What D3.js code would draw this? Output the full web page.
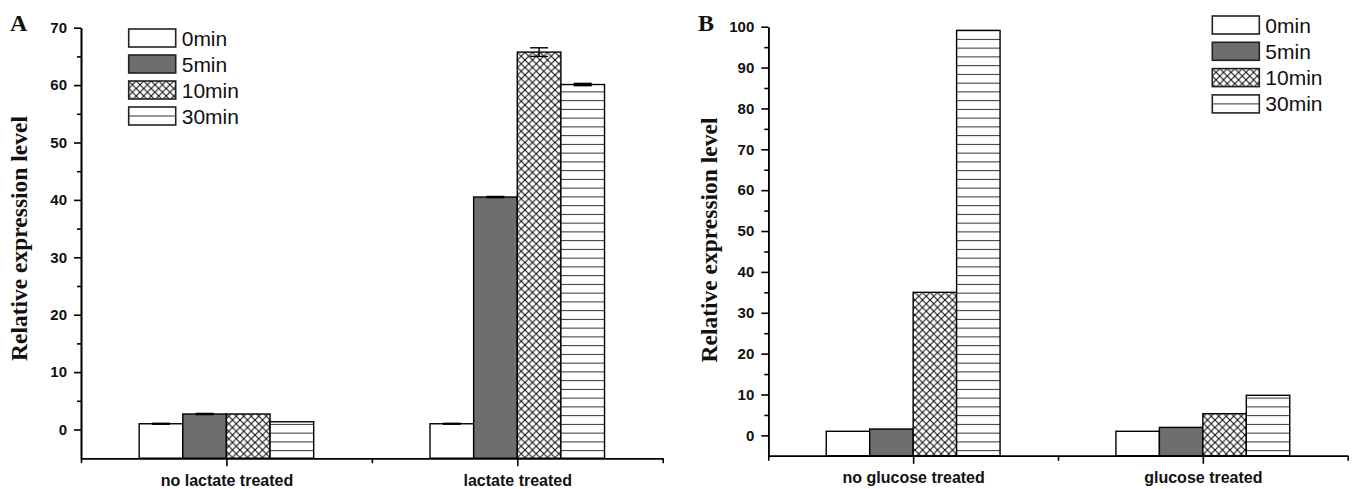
<!DOCTYPE html>
<html>
<head>
<meta charset="utf-8">
<script src="https://cdn.jsdelivr.net/npm/d3@7"></script>
<style>
  body { margin: 0; background: #fff; }
  svg { display: block; }
</style>
</head>
<body>
<div class="svg-content"></div>
<script>
const timePoints = ["0min", "5min", "10min", "30min"];

const groupsA = ["no lactate treated", "lactate treated"];
const valuesA = [[1.0, 2.7, 2.7, 1.35], [1.0, 40.5, 65.75, 60.1]];
const errorsA = [[0.08, 0.1, 0, 0], [0.08, 0.1, 0.75, 0.2]];
const ticksA = [0, 10, 20, 30, 40, 50, 60, 70];

const groupsB = ["no glucose treated", "glucose treated"];
const valuesB = [[1.0, 1.55, 35.0, 99.1], [1.0, 1.95, 5.3, 9.8]];
const errorsB = [[0, 0, 0, 0], [0, 0, 0, 0]];
const ticksB = [0, 10, 20, 30, 40, 50, 60, 70, 80, 90, 100];

const svgWidth = 1354;
const svgHeight = 489;

const svg = d3.select(".svg-content")
              .append("svg")
              .attr("width", svgWidth)
              .attr("height", svgHeight);

// fill patterns
const defs = svg.append("defs");

const cross = defs.append("pattern")
                  .attr("id", "cross")
                  .attr("patternUnits", "userSpaceOnUse")
                  .attr("width", 7.5)
                  .attr("height", 7.5);
cross.append("rect").attr("width", 7.5).attr("height", 7.5).attr("fill", "#fff");
cross.append("path")
     .attr("d", "M0,0L7.5,7.5M7.5,0L0,7.5")
     .attr("stroke", "#111")
     .attr("stroke-width", 1.1);

const horiz = defs.append("pattern")
                  .attr("id", "horiz")
                  .attr("patternUnits", "userSpaceOnUse")
                  .attr("width", 10)
                  .attr("height", 8.75);
horiz.append("rect").attr("width", 10).attr("height", 8.75).attr("fill", "#fff");
horiz.append("line")
     .attr("x1", 0).attr("x2", 10)
     .attr("y1", 4.4).attr("y2", 4.4)
     .attr("stroke", "#333")
     .attr("stroke-width", 1);

const fills = ["#fff", "#6e6e6e", "url(#cross)", "url(#horiz)"];

function drawPanel(opt) {
  const xScale = d3.scaleLinear()
                   .domain([0.5, 2.5])
                   .range([opt.left, opt.right]);

  const yScale = d3.scaleLinear()
                   .domain([-5, opt.yMax])
                   .range([opt.bottom, opt.top]);

  const barW = 0.15;
  const bars = [];
  opt.values.forEach((row, g) => {
    row.forEach((v, i) => {
      bars.push({ g: g, i: i, v: v, err: opt.errors[g][i] });
    });
  });

  const panel = svg.append("g");

  panel.selectAll("rect.bar")
       .data(bars)
       .enter()
       .append("rect")
       .attr("class", "bar")
       .attr("x", d => xScale(d.g + 1 - 2 * barW + d.i * barW))
       .attr("y", d => yScale(d.v))
       .attr("width", xScale(1 + barW) - xScale(1))
       .attr("height", d => yScale(-5) - yScale(d.v))
       .attr("fill", d => fills[d.i])
       .attr("stroke", "#000")
       .attr("stroke-width", 1.4);

  // error bars
  const errBars = bars.filter(d => d.err > 0);
  const cx = d => xScale(d.g + 1 - 2 * barW + (d.i + 0.5) * barW);
  const capW = 9;
  const eb = panel.selectAll("g.err")
                  .data(errBars)
                  .enter()
                  .append("g")
                  .attr("class", "err")
                  .attr("stroke", "#000")
                  .attr("stroke-width", 1.4);
  eb.append("line")
    .attr("x1", cx).attr("x2", cx)
    .attr("y1", d => yScale(d.v + d.err))
    .attr("y2", d => yScale(d.v - d.err));
  eb.append("line")
    .attr("x1", d => cx(d) - capW).attr("x2", d => cx(d) + capW)
    .attr("y1", d => yScale(d.v + d.err)).attr("y2", d => yScale(d.v + d.err));
  eb.append("line")
    .attr("x1", d => cx(d) - capW).attr("x2", d => cx(d) + capW)
    .attr("y1", d => yScale(d.v - d.err)).attr("y2", d => yScale(d.v - d.err));

  // y axis
  const yAxis = d3.axisLeft(yScale)
                  .tickValues(opt.ticks)
                  .tickSize(7)
                  .tickSizeOuter(0)
                  .tickPadding(7);
  const yMinor = d3.axisLeft(yScale)
                   .tickValues(opt.ticks.map(t => t + 5).filter(t => t < opt.yMax))
                   .tickSize(4)
                   .tickSizeOuter(0)
                   .tickFormat("");

  const yg = panel.append("g")
                  .attr("transform", "translate(" + opt.left + ",0)")
                  .call(yAxis);
  panel.append("g")
       .attr("transform", "translate(" + opt.left + ",0)")
       .call(yMinor);

  yg.selectAll("text")
    .style("font-family", "'Liberation Sans', Arial, sans-serif")
    .style("font-weight", "bold")
    .style("font-size", "15px")
    .attr("fill", "#111");

  // x axis
  const xAxis = d3.axisBottom(xScale)
                  .tickValues([1, 2])
                  .tickSize(8)
                  .tickSizeOuter(0)
                  .tickPadding(8)
                  .tickFormat(d => opt.groups[d - 1]);
  const xMinor = d3.axisBottom(xScale)
                   .tickValues([0.5, 1.5, 2.5])
                   .tickSize(5)
                   .tickSizeOuter(0)
                   .tickFormat("");

  const xg = panel.append("g")
                  .attr("transform", "translate(0," + opt.bottom + ")")
                  .call(xAxis);
  panel.append("g")
       .attr("transform", "translate(0," + opt.bottom + ")")
       .call(xMinor);

  xg.selectAll("text")
    .style("font-family", "'Liberation Sans', Arial, sans-serif")
    .style("font-weight", "bold")
    .style("font-size", "16px")
    .attr("fill", "#111");

  panel.selectAll(".domain, .tick line")
       .attr("stroke", "#000")
       .attr("stroke-width", 1.6);

  // axis title
  panel.append("text")
       .attr("transform", "translate(" + opt.titleX + "," + opt.titleY + ") rotate(-90)")
       .attr("text-anchor", "middle")
       .style("font-family", "'Liberation Serif', 'Times New Roman', serif")
       .style("font-weight", "bold")
       .style("font-size", "23.5px")
       .attr("fill", "#111")
       .text("Relative expression level");

  // panel letter
  panel.append("text")
       .attr("x", opt.letterX)
       .attr("y", 30.5)
       .style("font-family", "'Liberation Serif', 'Times New Roman', serif")
       .style("font-weight", "bold")
       .style("font-size", "24px")
       .attr("fill", "#111")
       .text(opt.letter);

  // legend
  const legend = panel.selectAll("g.legend")
                      .data(timePoints)
                      .enter()
                      .append("g")
                      .attr("class", "legend")
                      .attr("transform", (d, i) => "translate(" + opt.legendX + "," + (opt.legendY + i * opt.legendStep) + ")");

  legend.append("rect")
        .attr("width", 47)
        .attr("height", 18)
        .attr("fill", (d, i) => i === 3 ? "#fff" : fills[i])
        .attr("stroke", "#222")
        .attr("stroke-width", 1.6);

  legend.filter((d, i) => i === 3)
        .append("line")
        .attr("x1", 0).attr("x2", 47)
        .attr("y1", 9).attr("y2", 9)
        .attr("stroke", "#333")
        .attr("stroke-width", 1);

  legend.append("text")
        .attr("x", 53)
        .attr("y", 16.5)
        .style("font-family", "'Liberation Sans', Arial, sans-serif")
        .style("font-size", "21px")
        .attr("fill", "#111")
        .text(d => d);
}

drawPanel({
  letter: "A", letterX: 10,
  groups: groupsA, values: valuesA, errors: errorsA, ticks: ticksA, yMax: 70,
  left: 81, right: 662.7, top: 27.7, bottom: 458.2,
  titleX: 27, titleY: 238.5,
  legendX: 128.7, legendY: 29, legendStep: 26
});

drawPanel({
  letter: "B", letterX: 698,
  groups: groupsB, values: valuesB, errors: errorsB, ticks: ticksB, yMax: 100,
  left: 768.3, right: 1347.7, top: 26.7, bottom: 455.8,
  titleX: 717.3, titleY: 240,
  legendX: 1212.3, legendY: 16, legendStep: 26.3
});
</script>
</body>
</html>
